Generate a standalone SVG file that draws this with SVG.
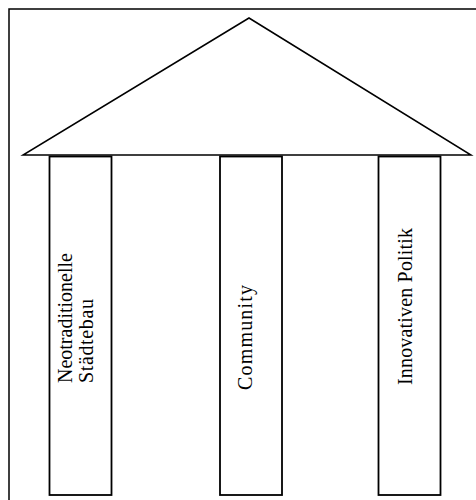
<svg xmlns="http://www.w3.org/2000/svg" width="476" height="500" viewBox="0 0 476 500">
<style>
.ln{fill:none;stroke:#000;stroke-width:1.5}
.pl{fill:#fff;stroke:#000;stroke-width:1.8}
.tx{font-family:"Liberation Serif","Times New Roman",serif;font-size:20px;fill:#000}
</style>
<rect x="0" y="0" width="476" height="500" fill="#fff"/>
<rect id="frame" class="ln" x="9" y="9" width="480" height="500"/>
<g id="roof">
<polygon class="ln" points="249,18 23,155 471,155" stroke-width="1.2"/>
</g>
<g id="pillar1">
<rect class="pl" x="49.5" y="156.5" width="62" height="338.5"/>
<text class="tx" transform="translate(72,383) rotate(-90)" textLength="130" lengthAdjust="spacing">Neotraditionelle</text>
<text class="tx" transform="translate(93,383) rotate(-90)" textLength="84" lengthAdjust="spacing">Städtebau</text>
</g>
<g id="pillar2">
<rect class="pl" x="220" y="156.5" width="62" height="338.5"/>
<text class="tx" transform="translate(252,390) rotate(-90)" textLength="105" lengthAdjust="spacing">Community</text>
</g>
<g id="pillar3">
<rect class="pl" x="378.5" y="156.5" width="62" height="338.5"/>
<text class="tx" transform="translate(412,385) rotate(-90)" textLength="157" lengthAdjust="spacing">Innovativen Politik</text>
</g>
</svg>
